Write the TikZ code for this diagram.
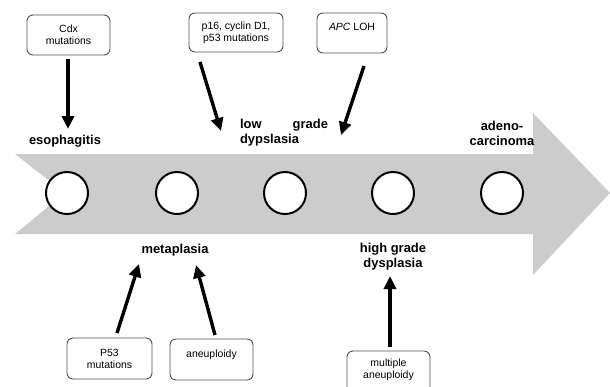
\documentclass[tikz,border=0pt]{standalone}
\usepackage{fontspec}
\setmainfont{Liberation Sans}
\usetikzlibrary{arrows.meta}
\definecolor{bandgray}{RGB}{204,204,204}
\definecolor{boxline}{RGB}{80,80,80}
\begin{document}
\begin{tikzpicture}[x=1bp,y=-1bp,
  stage/.style={font=\fontsize{13}{15}\selectfont\bfseries, inner sep=0pt, align=center},
  genebox/.style={draw=boxline, line width=0.9bp, rounded corners=6bp, fill=white,
    font=\fontsize{10.5}{12}\selectfont, align=center, inner sep=1bp},
  dot/.style={circle, draw=black, line width=2bp, fill=white, minimum size=42bp, inner sep=0pt},
  bigarrow/.style={line width=3.4bp, -{Triangle[length=13bp,width=12bp]}}
]
\useasboundingbox (0,0) rectangle (610,386);
% the big grey arrow
\fill[bandgray] (15,154) -- (533,154) -- (533,113) -- (610,193) -- (533,275)
  -- (533,234) -- (15,234) -- (65,193) -- cycle;
% circles
\foreach \i/\x in {1/67,2/177,3/285,4/393,5/502}
  \node[dot] (c\i) at (\x,193) {};
% stage labels
\node[stage] (esoph) at (65,141) {esophagitis};
\node[stage, text width=88bp, align=left] (lowg) at (284,133) {low\hfill grade\\dypslasia};
\node[stage] (adeno) at (502,133) {adeno-\\carcinoma};
\node[stage] (meta) at (175,250) {metaplasia};
\node[stage] (highg) at (393,257) {high grade\\dysplasia};
% gene boxes
\node[genebox, minimum width=83bp, minimum height=40bp] (cdx) at (68.5,35) {Cdx\\mutations};
\node[genebox, minimum width=94bp, minimum height=39bp] (p16) at (236,32.5) {p16, cyclin D1,\\p53 mutations};
\node[genebox, minimum width=70bp, minimum height=40bp, text depth=12bp] (apc) at (352,33) {\textit{APC} LOH};
\node[genebox, minimum width=85bp, minimum height=41bp] (p53) at (109.5,358.5) {P53\\mutations};
\node[genebox, minimum width=83bp, minimum height=41bp, text depth=12bp] (aneu) at (211.5,359.5) {aneuploidy};
\node[genebox, minimum width=83bp, minimum height=46bp, text depth=10bp] (multi) at (388.5,374) {multiple\\aneuploidy};
% arrow ends
\coordinate (t1) at (68,59);   \coordinate (h1) at (68,129);
\coordinate (t2) at (200,62);  \coordinate (h2) at (221,131);
\coordinate (t3) at (364,66);  \coordinate (h3) at (341,135);
\coordinate (t4) at (117,333); \coordinate (h4) at (139,264);
\coordinate (t5) at (215,335); \coordinate (h5) at (196,265);
\coordinate (t6) at (390,347); \coordinate (h6) at (390,276);
\draw[bigarrow] (t1) -- (h1);
\draw[bigarrow] (t2) -- (h2);
\draw[bigarrow] (t3) -- (h3);
\draw[bigarrow] (t4) -- (h4);
\draw[bigarrow] (t5) -- (h5);
\draw[bigarrow] (t6) -- (h6);
\end{tikzpicture}
\end{document}
